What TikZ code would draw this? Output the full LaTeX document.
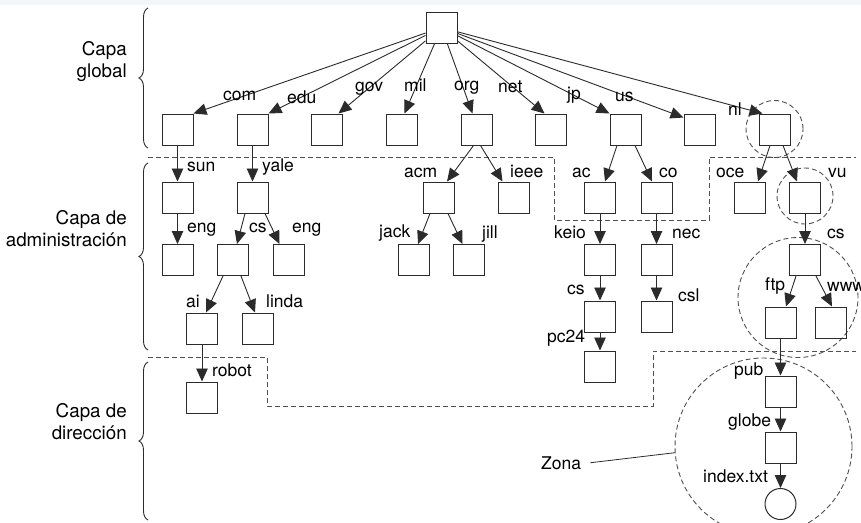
\documentclass[tikz,border=0pt]{standalone}
\usepackage{fontspec}
\setmainfont{TeX Gyre Heros}
\usetikzlibrary{arrows.meta,decorations.pathreplacing}
\definecolor{ink}{HTML}{2B2B2B}
\definecolor{dashc}{HTML}{505050}
\definecolor{topstrip}{HTML}{F3F6F9}
\tikzset{
  box/.style={draw=ink, line width=1pt, minimum size=31pt, inner sep=0pt},
  leaf/.style={draw=ink, line width=1pt, circle, minimum size=31pt, inner sep=0pt},
  lab/.style={anchor=base west, inner sep=0pt, text=black, font=\fontsize{17.5}{21}\selectfont},
  layerlab/.style={anchor=base east, inner sep=0pt, align=right, text=black, font=\fontsize{18.8}{21.5}\selectfont},
  arr/.style={draw=ink, line width=0.9pt, -{Triangle[length=13pt,width=11.5pt]}},
  layerline/.style={draw=dashc, line width=0.9pt, dash pattern=on 5pt off 3pt},
  zone/.style={draw=dashc, line width=0.9pt, dash pattern=on 5pt off 3pt, circle, inner sep=0pt},
  bracestyle/.style={draw=ink, line width=0.9pt, decorate, decoration={brace, amplitude=9pt}}
}
\begin{document}
\begin{tikzpicture}[x=1pt, y=-1pt]
\useasboundingbox (0,0) rectangle (861,522);
\fill[white] (0,0) rectangle (861,522);
\fill[topstrip] (0,0) rectangle (861,4.5);

% layer braces and labels
\draw[bracestyle] (148,148) -- (148,8);
\draw[bracestyle] (148,350) -- (148,163);
\draw[bracestyle] (148,520) -- (148,362);
\node[layerlab] (lg) at (127,77) {Capa\\global};
\node[layerlab] (la) at (127,246) {Capa de\\administración};
\node[layerlab] (ld) at (127,439) {Capa de\\dirección};

% layer separators
\draw[layerline] (148,157) -- (554,157) -- (554,220) -- (709,220) -- (709,157) -- (856,157);
\draw[layerline] (148,357) -- (267,357) -- (267,406) -- (653,406) -- (653,351) -- (856,351);

% zones
\node[zone, minimum size=57pt] (znl) at (774.5,129) {};
\node[zone, minimum size=56pt] (zvu) at (805,196) {};
\node[zone, minimum size=120pt] (zcs) at (798,297.5) {};
\node[zone, minimum size=177pt] (zpub) at (763.5,446.5) {};

% nodes
\node[box] (root) at (441.5,27.5) {};
\foreach \n/\x in {com/177.5, edu/252.5, gov/326.5, mil/401.5, org/476.5, net/550.5, jp/625.5, us/699.5, nl/774.5}
  \node[box] (\n) at (\x,129.5) {};
\foreach \n/\x in {sun/177.5, yale/252.5, acm/438.5, ieee/513.5, ac/600, co/656.5, oce/749.5, vu/805}
  \node[box] (\n) at (\x,197.5) {};
\foreach \n/\x in {engA/177.5, csA/232.5, engB/288.5, jack/413.5, jill/468.5, keio/600, nec/656.5, csV/805}
  \node[box] (\n) at (\x,260) {};
\node[box] (ai) at (202,328.5) {};
\node[box] (linda) at (257.5,328.5) {};
\node[box] (csK) at (600,316.5) {};
\node[box] (csl) at (656.5,316.5) {};
\node[box] (ftp) at (780.5,322.5) {};
\node[box] (www) at (830.5,322.5) {};
\node[box] (robot) at (202,397.5) {};
\node[box] (pc24) at (600,366.5) {};
\node[box] (pub) at (780.5,391.5) {};
\node[box] (globe) at (780.5,447.5) {};
\node[leaf] (index) at (780.5,504) {};

% top-level arrows
\draw[arr] (root) -- (com.north east);
\draw[arr] (root) -- (edu.north east);
\draw[arr] (root) -- ([xshift=-4pt]gov.north east);
\draw[arr] (root) -- ([xshift=3pt]mil.north);
\draw[arr] (root) -- ([xshift=-4pt]org.north);
\draw[arr] (root) -- ([xshift=-6pt]net.north);
\draw[arr] (root) -- (jp.north west);
\draw[arr] (root) -- ([yshift=-4pt]us.north west);
\draw[arr] (root) -- ([xshift=4pt]nl.north west);

% subtrees
\draw[arr] (com) -- (sun);
\draw[arr] (edu) -- (yale);
\draw[arr] (sun) -- (engA);
\draw[arr] ([xshift=-7.5pt]yale.south) -- ([xshift=4.5pt]csA.north);
\draw[arr] ([xshift=12.5pt]yale.south) -- ([xshift=7pt]engB.north west);
\draw[arr] ([xshift=-9.5pt]csA.south) -- ([xshift=4pt]ai.north);
\draw[arr] ([xshift=8.5pt]csA.south) -- ([xshift=-2.5pt]linda.north);
\draw[arr] (ai) -- (robot);
\draw[arr] ([xshift=-3pt]org.south) -- ([xshift=8.5pt]acm.north);
\draw[arr] ([xshift=4pt]org.south) -- ([xshift=5pt]ieee.north west);
\draw[arr] ([xshift=-8.5pt]acm.south) -- ([xshift=4.5pt]jack.north);
\draw[arr] ([xshift=9.5pt]acm.south) -- ([xshift=10pt]jill.north west);
\draw[arr] ([xshift=-8.5pt]jp.south) -- ([xshift=5pt]ac.north);
\draw[arr] ([xshift=9.5pt]jp.south) -- ([xshift=-4.5pt]co.north);
\draw[arr] (ac) -- (keio);
\draw[arr] (co) -- (nec);
\draw[arr] (keio) -- (csK);
\draw[arr] (csK) -- (pc24);
\draw[arr] (nec) -- (csl);
\draw[arr] ([xshift=-4.5pt]nl.south) -- ([xshift=8.5pt]oce.north);
\draw[arr] ([xshift=8.5pt]nl.south) -- ([xshift=-8pt]vu.north);
\draw[arr] (vu) -- (csV);
\draw[arr] ([xshift=-9pt]csV.south) -- ([xshift=5.5pt]ftp.north);
\draw[arr] ([xshift=11pt]csV.south) -- ([xshift=1.5pt]www.north);
\draw[arr] (ftp) -- (pub);
\draw[arr] (pub) -- (globe);
\draw[arr] (globe) -- (index);

% labels
\node[lab] (tcom) at (223,100) {com};
\node[lab] (tedu) at (287,103) {edu};
\node[lab] (tgov) at (355,91) {gov};
\node[lab] (tmil) at (404,91) {mil};
\node[lab] (torg) at (454,90) {org};
\node[lab] (tnet) at (498,92) {net};
\node[lab] (tjp) at (567,99) {jp};
\node[lab] (tus) at (615,101) {us};
\node[lab] (tnl) at (728,115) {nl};
\node[lab] (tsun) at (187,171) {sun};
\node[lab] (tyale) at (262,171) {yale};
\node[lab] (tacm) at (404,177) {acm};
\node[lab] (tieee) at (510,177) {ieee};
\node[lab] (tac) at (572,177) {ac};
\node[lab] (tco) at (659,177) {co};
\node[lab] (toce) at (716,177) {oce};
\node[lab] (tvu) at (828,177) {vu};
\node[lab] (tengA) at (187,232) {eng};
\node[lab] (tcsA) at (249,232) {cs};
\node[lab] (tengB) at (292,232) {eng};
\node[lab] (tjack) at (379,237) {jack};
\node[lab] (tjill) at (482,238) {jill};
\node[lab] (tkeio) at (554,238) {keio};
\node[lab] (tnec) at (672,238) {nec};
\node[lab] (tcsV) at (827,238) {cs};
\node[lab] (tai) at (186,307) {ai};
\node[lab] (tlinda) at (266,307) {linda};
\node[lab] (tcsK) at (567,294) {cs};
\node[lab] (tcsl) at (678,301) {csl};
\node[lab] (tftp) at (765,290) {ftp};
\node[lab] (twww) at (827,291) {www};
\node[lab] (trobot) at (212,376) {robot};
\node[lab] (tpc24) at (547,342) {pc24};
\node[lab] (tpub) at (734,375) {pub};
\node[lab] (tglobe) at (728,426) {globe};
\node[lab] (tindex) at (703,482) {index.txt};
\node[lab] (zona) at (541,469) {Zona};
\draw[draw=ink, line width=0.8pt] ([xshift=9pt]zona.east) -- (zpub.184);
\end{tikzpicture}
\end{document}
